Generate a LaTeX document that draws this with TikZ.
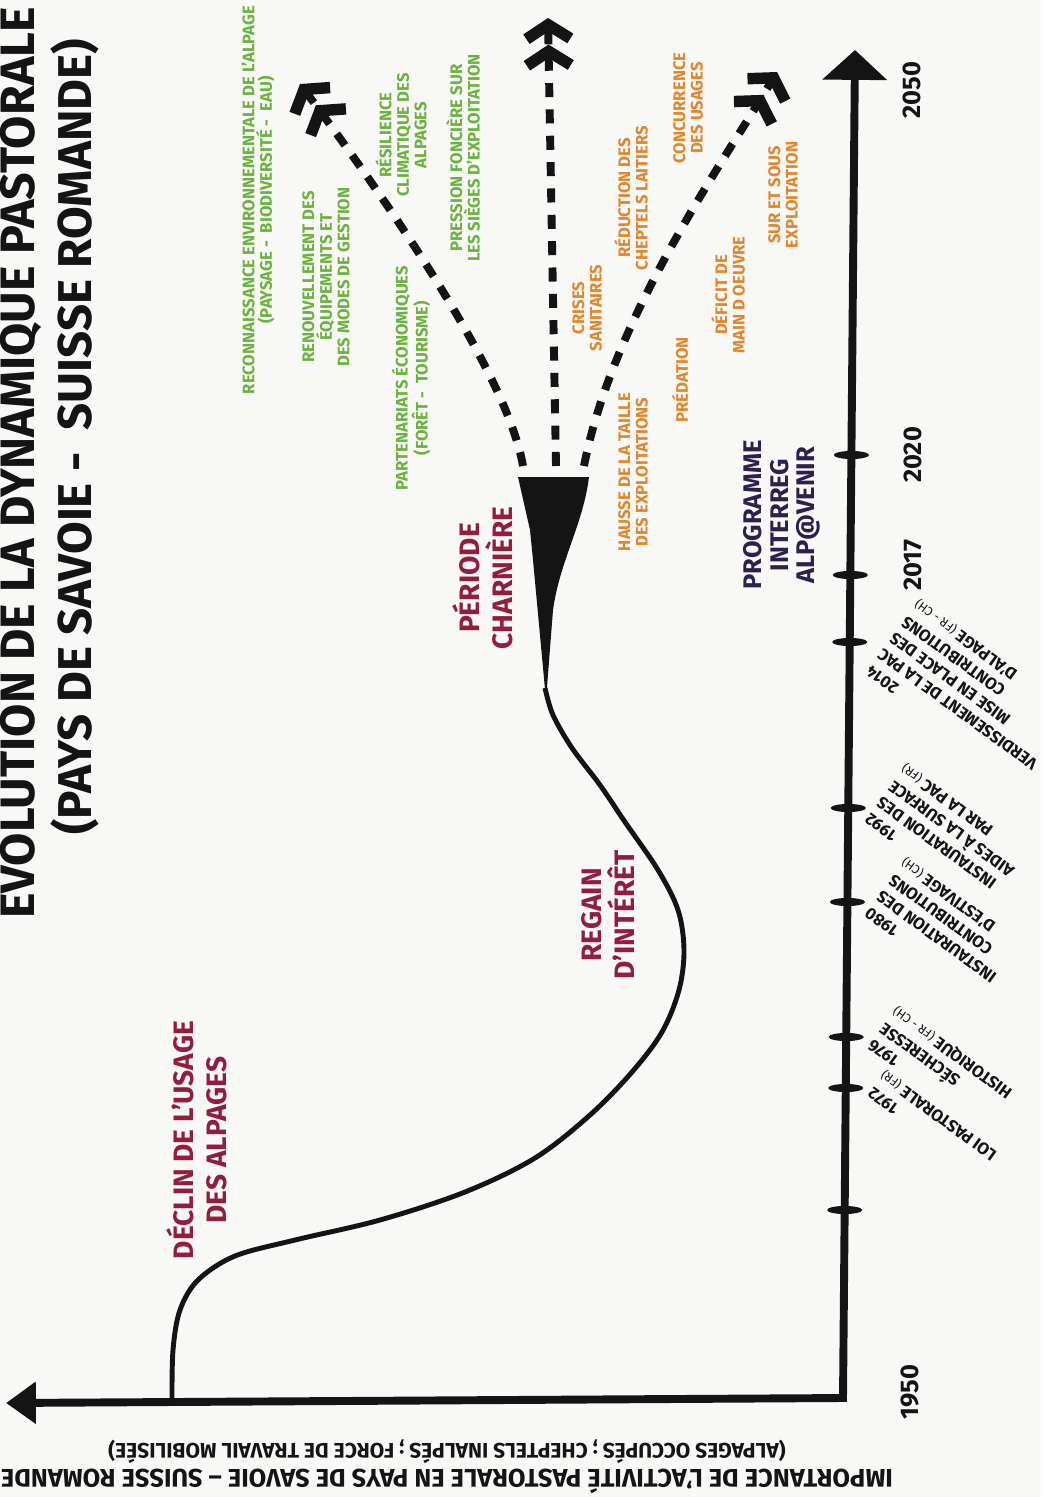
\documentclass[tikz,border=0pt]{standalone}
\usepackage{fontspec}
\setmainfont{Fira Sans}
\usetikzlibrary{arrows.meta}
\definecolor{phaserouge}{RGB}{146,30,62}
\definecolor{atoutvert}{RGB}{108,178,62}
\definecolor{freinorange}{RGB}{225,134,42}
\definecolor{interregviolet}{RGB}{46,32,76}
\definecolor{fond}{RGB}{248,248,247}
\definecolor{encre}{RGB}{20,20,20}
\newcommand{\zone}[1]{{\mdseries\fontsize{7}{8}\selectfont #1}}
\begin{document}
\begin{tikzpicture}[x=0.02cm,y=-0.02cm]
	\tikzstyle{phase}=[rotate=90,align=center,text=phaserouge,font=\bfseries\fontsize{16}{19}\selectfont]
	\tikzstyle{atout}=[rotate=90,align=center,text=atoutvert,font=\bfseries\fontsize{9.5}{10}\selectfont]
	\tikzstyle{frein}=[rotate=90,align=center,text=freinorange,font=\bfseries\fontsize{9.5}{10}\selectfont]
	\tikzstyle{annee}=[rotate=90,text=encre,font=\bfseries\fontsize{14.5}{15}\selectfont]
	\tikzstyle{titre}=[rotate=90,text=encre,inner sep=0pt]
	\tikzstyle{evenement}=[rotate=144,align=right,anchor=north east,inner sep=0pt,text=encre,font=\bfseries\fontsize{9.5}{11.5}\selectfont]
	\tikzstyle{futur}=[encre,line width=4.5pt,dash pattern=on 8pt off 7pt,-{Straight Barb[length=8pt,width=25pt,line width=6.5pt]Straight Barb[length=8pt,width=25pt,line width=6.5pt]}]
	\tikzstyle{axe}=[encre,line width=4.5pt]
	\fill[fond] (0,0) rectangle (1041,1497);
	\useasboundingbox (0,0) rectangle (1041,1497);
	\node[titre,font=\bfseries\fontsize{27.5}{30}\selectfont] (titre1) at (21,463) {EVOLUTION DE LA DYNAMIQUE PASTORALE};
	\node[titre,font=\bfseries\fontsize{27}{30}\selectfont] (titre2) at (75,437) {(PAYS DE SAVOIE -\ \ SUISSE ROMANDE)};
	\node[rotate=180,align=center,text=encre,font=\bfseries\fontsize{14.5}{15}\selectfont] (importance) at (447,1467) {IMPORTANCE DE L'ACTIVITÉ PASTORALE EN PAYS DE SAVOIE -- SUISSE ROMANDE\\{\fontsize{12}{13}\selectfont (ALPAGES OCCUPÉS ; CHEPTELS INALPÉS ; FORCE DE TRAVAIL MOBILISÉE)}};
	\coordinate (origine) at (843,1398);
	\coordinate (fin) at (855,50);
	\coordinate (gauche) at (6,1403);
	\draw[axe,{Triangle[length=17pt,width=36pt]}-{Triangle[length=17pt,width=23pt]}] (fin) -- (origine) -- (gauche);
	\foreach \ty in {455,575,642,808,902,1037,1088,1210}
		\fill[encre] ({843+(1398-\ty)*0.0089},\ty) ellipse [x radius=10pt,y radius=2.3pt];
	\node[annee] (a2050) at (912,90) {2050};
	\node[annee] (a2020) at (913,455) {2020};
	\node[annee] (a2017) at (913,565) {2017};
	\node[annee] (a1950) at (910,1392) {1950};
	\node[evenement] (e1972) at (866,1096) {1972\\LOI PASTORALE \zone{(FR)}};
	\node[evenement] (e1976) at (866,1048) {1976\\SÉCHERESSE\\HISTORIQUE \zone{(FR - CH)}};
	\node[evenement] (e1980) at (863,916) {1980\\INSTAURATION DES\\CONTRIBUTIONS\\D'ESTIVAGE \zone{(CH)}};
	\node[evenement] (e1992) at (863,822) {1992\\INSTAURATION DES\\AIDES À LA SURFACE\\PAR LA PAC \zone{(FR)}};
	\node[evenement] (e2014) at (864,674) {2014\\VERDISSEMENT DE LA PAC\\MISE EN PLACE DES\\CONTRIBUTIONS\\D'ALPAGE \zone{(FR - CH)}};
	\coordinate (depart) at (172,1402);
	\coordinate (col) at (545,688);
	\draw[encre,line width=2.8pt] plot[smooth,tension=0.55] coordinates {(depart) (173,1350) (180,1310) (198,1280) (235,1256) (295,1240) (380,1220) (465,1192) (535,1158) (590,1115) (632,1072) (662,1032) (679,990) (684,950) (678,910) (658,870) (625,822) (600,785) (572,748) (553,715) (col)};
	\fill[encre] (518,477) -- (589,477) .. controls (583,525) and (560,560) .. (553,610) -- (546,700) -- (533,560) -- (530,530) -- cycle;
	\coordinate (gaucheA) at (523,466);
	\coordinate (milieuA) at (556,466);
	\coordinate (droiteA) at (584,466);
	\coordinate (gaucheZ) at (300,84);
	\coordinate (milieuZ) at (548,18);
	\coordinate (droiteZ) at (777,72);
	\draw[futur] (gaucheA) .. controls (508,380) and (405,225) .. (gaucheZ);
	\draw[futur] (milieuA) -- (milieuZ);
	\draw[futur] (droiteA) .. controls (613,316) and (726,158) .. (droiteZ);
	\node[phase] (declin) at (197,1140) {DÉCLIN DE L'USAGE\\DES ALPAGES};
	\node[phase] (regain) at (608,915) {REGAIN\\D'INTÉRÊT};
	\node[phase] (charniere) at (483,578) {PÉRIODE\\CHARNIÈRE};
	\node[rotate=90,align=center,text=interregviolet,font=\bfseries\fontsize{14.5}{15}\selectfont] (interreg) at (782,515) {PROGRAMME\\INTERREG\\ALP@VENIR};
	\node[atout] (reconnaissance) at (258,200) {RECONNAISSANCE ENVIRONNEMENTALE DE L'ALPAGE\\(PAYSAGE -\ \ BIODIVERSITÉ -\ \ EAU)};
	\node[atout] (renouvellement) at (326,277) {RENOUVELLEMENT DES\\ÉQUIPEMENTS ET\\DES MODES DE GESTION};
	\node[atout] (partenariats) at (411,378) {PARTENARIATS ÉCONOMIQUES\\(FORÊT -\ \ TOURISME)};
	\node[atout] (resilience) at (401,135) {RÉSILIENCE\\CLIMATIQUE DES\\ALPAGES};
	\node[atout] (pression) at (463,158) {PRESSION FONCIÈRE SUR\\LES SIÈGES D'EXPLOITATION};
	\node[frein] (crises) at (587,308) {CRISES\\SANITAIRES};
	\node[frein] (reduction) at (631,198) {RÉDUCTION DES\\CHEPTELS LAITIERS};
	\node[frein] (concurrence) at (688,108) {CONCURRENCE\\DES USAGES};
	\node[frein] (hausse) at (633,472) {HAUSSE DE LA TAILLE\\DES EXPLOITATIONS};
	\node[frein] (predation) at (680,380) {PRÉDATION};
	\node[frein] (deficit) at (728,295) {DÉFICIT DE\\MAIN D OEUVRE};
	\node[frein] (sursous) at (783,195) {SUR ET SOUS\\EXPLOITATION};
\end{tikzpicture}
\end{document}
